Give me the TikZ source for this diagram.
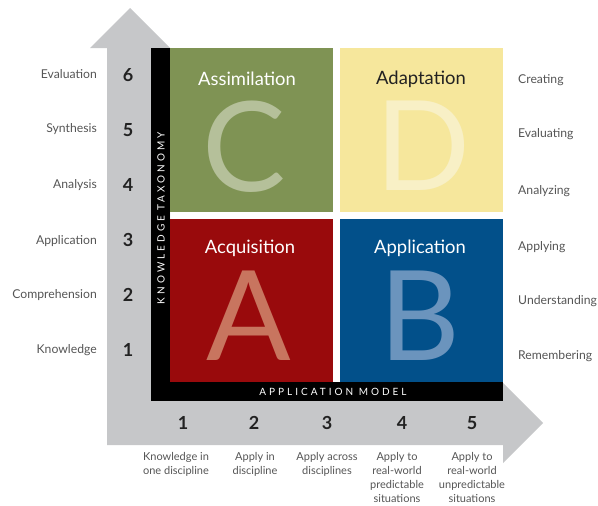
\documentclass[tikz,border=0pt]{standalone}
\usepackage{fontspec}
\setmainfont{Lato}
\definecolor{arrowgray}{HTML}{C6C7C9}
\definecolor{qgreen}{HTML}{7F9354}
\definecolor{qyellow}{HTML}{F6E79C}
\definecolor{qred}{HTML}{990A0C}
\definecolor{qblue}{HTML}{02508A}
\definecolor{lgreen}{HTML}{B5C09A}
\definecolor{lyellow}{HTML}{F8F0C6}
\definecolor{lred}{HTML}{C8755F}
\definecolor{lblue}{HTML}{6B94BD}
\definecolor{labgray}{HTML}{555555}
\definecolor{numblack}{HTML}{222222}
\tikzset{
  sidelabel/.style={font=\fontsize{12.2}{14}\selectfont, text=labgray, inner sep=0pt},
  leftlabel/.style={sidelabel, anchor=east},
  rightlabel/.style={sidelabel, anchor=west},
  bignum/.style={font=\fontsize{18}{20}\selectfont\bfseries, text=numblack, inner sep=0pt},
  botlabel/.style={font=\fontsize{11}{14}\selectfont, text=labgray, align=center, inner sep=0pt, anchor=north},
  qtitle/.style={font=\fontsize{18.4}{20}\selectfont, inner sep=0pt},
  bigletter/.style={font=\fontsize{125}{125}\selectfont, inner sep=0pt},
  axistext/.style={font=\fontsize{10}{11}\selectfont\addfontfeatures{LetterSpace=30}, text=white, inner sep=0pt},
}
\begin{document}
\begin{tikzpicture}[x=1pt,y=-1pt]
\useasboundingbox (0,0) rectangle (598,506);
% gray L-shaped double arrow
\fill[arrowgray] (107,445) -- (107,48) -- (90,48) -- (130,8) -- (170,48)
  -- (170,401) -- (503,401) -- (503,383) -- (543,423) -- (503,463)
  -- (503,445) -- cycle;
% black axis bars
\fill[black] (151,48) rectangle (170,401);
\fill[black] (151,382) rectangle (503,401);
% quadrants
\fill[qgreen] (170,48) rectangle (333,212);
\fill[qyellow] (340,48) rectangle (503,212);
\fill[qred] (170,219) rectangle (333,382);
\fill[qblue] (340,219) rectangle (503,382);
% big letters
\node[bigletter, text=lgreen] (bigC) at (244,147) {C};
\node[bigletter, text=lyellow] (bigD) at (423,146) {D};
\node[bigletter, text=lred] (bigA) at (249,316) {A};
\node[bigletter, text=lblue] (bigB) at (420,316) {B};
% quadrant titles
\node[qtitle, text=white] (tC) at (247,79) {Assimilation};
\node[qtitle, text=numblack] (tD) at (421,79) {Adaptation};
\node[qtitle, text=white] (tA) at (250,248) {Acquisition};
\node[qtitle, text=white] (tB) at (420,248) {Application};
% axis titles
\node[axistext, rotate=90] (ktax) at (161,218) {KNOWLEDGE TAXONOMY};
\node[axistext] (amod) at (333,392) {APPLICATION MODEL};
% left labels and numbers
\node[leftlabel] (l6) at (97,74) {Evaluation};
\node[leftlabel] (l5) at (97,129) {Synthesis};
\node[leftlabel] (l4) at (97,185) {Analysis};
\node[leftlabel] (l3) at (97,241) {Application};
\node[leftlabel] (l2) at (97,295) {Comprehension};
\node[leftlabel] (l1) at (97,350) {Knowledge};
\node[bignum] (n6) at (128,75) {6};
\node[bignum] (n5) at (128,130) {5};
\node[bignum] (n4) at (128,185) {4};
\node[bignum] (n3) at (128,240) {3};
\node[bignum] (n2) at (128,295) {2};
\node[bignum] (n1) at (128,350) {1};
% right labels
\node[rightlabel] (r6) at (518,80) {Creating};
\node[rightlabel] (r5) at (518,134) {Evaluating};
\node[rightlabel] (r4) at (518,191) {Analyzing};
\node[rightlabel] (r3) at (518,247) {Applying};
\node[rightlabel] (r2) at (518,301) {Understanding};
\node[rightlabel] (r1) at (518,356) {Remembering};
% bottom numbers
\node[bignum] (b1) at (183,423) {1};
\node[bignum] (b2) at (254,423) {2};
\node[bignum] (b3) at (327,423) {3};
\node[bignum] (b4) at (402,423) {4};
\node[bignum] (b5) at (472,423) {5};
% bottom labels
\node[botlabel] (d1) at (176,452) {Knowledge in\\one discipline};
\node[botlabel] (d2) at (255,452) {Apply in\\discipline};
\node[botlabel] (d3) at (327,452) {Apply across\\disciplines};
\node[botlabel] (d4) at (397,452) {Apply to\\real-world\\predictable\\situations};
\node[botlabel] (d5) at (472,452) {Apply to\\real-world\\unpredictable\\situations};
\end{tikzpicture}
\end{document}
